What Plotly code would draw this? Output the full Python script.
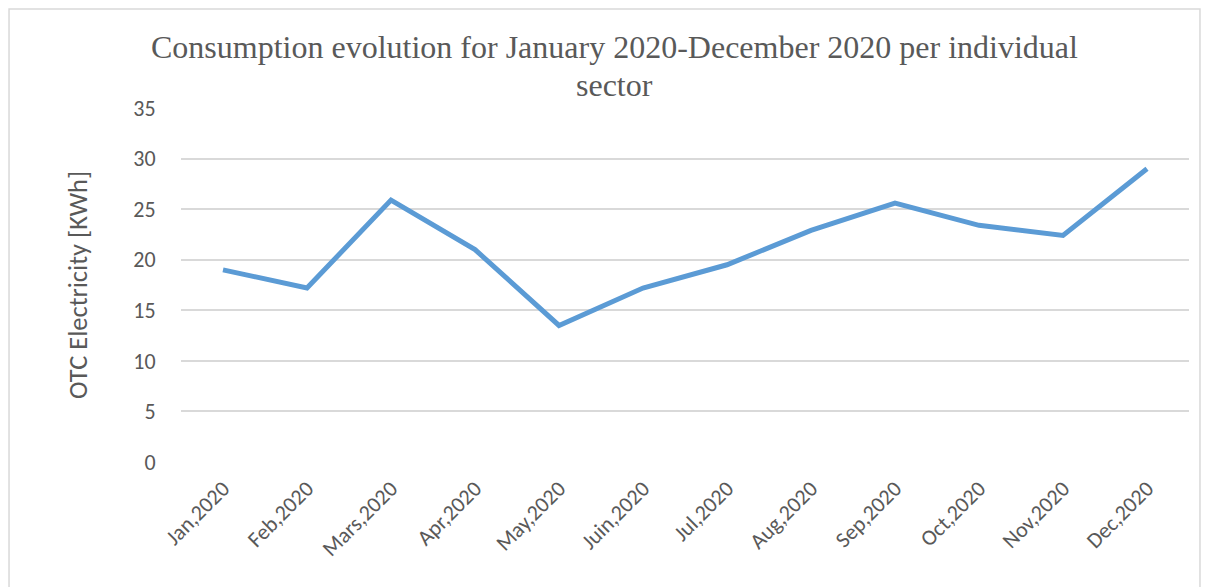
import plotly.graph_objects as go

months = ["Jan,2020", "Feb,2020", "Mars,2020", "Apr,2020", "May,2020", "Juin,2020",
          "Jul,2020", "Aug,2020", "Sep,2020", "Oct,2020", "Nov,2020", "Dec,2020"]
consumption = [19.0, 17.2, 25.9, 21.0, 13.5, 17.2, 19.5, 22.9, 25.6, 23.4, 22.4, 29.0]
y_ticks = [0, 5, 10, 15, 20, 25, 30, 35]
title_lines = ["Consumption evolution for January 2020-December 2020 per individual", "sector"]

SANS = "Carlito, Open Sans, Liberation Sans"
GREY = "#595959"

fig = go.Figure()
fig.add_trace(go.Scatter(
    x=months, y=consumption, mode="lines",
    line=dict(color="#5B9BD5", width=5),
    showlegend=False,
))

fig.update_layout(
    width=1206, height=579,
    margin=dict(l=173, r=25, t=100, b=125),
    paper_bgcolor="white", plot_bgcolor="white",
    xaxis=dict(
        type="category",
        tickangle=-45,
        tickfont=dict(family=SANS, size=22, color=GREY),
        showgrid=False, showline=False, zeroline=False,
        ticks="outside", ticklen=4, tickcolor="rgba(0,0,0,0)",
        range=[-0.5, 11.5],
    ),
    yaxis=dict(
        range=[0, 35], tickvals=y_ticks,
        tickfont=dict(family=SANS, size=22, color=GREY),
        showgrid=True, gridcolor="#D9D9D9", gridwidth=1.6,
        zeroline=False, showline=False,
        ticks="outside", ticklen=20, tickcolor="rgba(0,0,0,0)",
        title=dict(text="OTC Electricity [KWh]",
                   font=dict(family=SANS, size=26.5, color=GREY),
                   standoff=38),
    ),
    annotations=[
        dict(text=title_lines[0], xref="paper", yref="paper", x=0.4296, y=1.172,
             xanchor="center", yanchor="middle", showarrow=False,
             font=dict(family="Liberation Serif", size=32, color=GREY)),
        dict(text=title_lines[1], xref="paper", yref="paper", x=0.4296, y=1.065,
             xanchor="center", yanchor="middle", showarrow=False,
             font=dict(family="Liberation Serif", size=32, color=GREY)),
    ],
    shapes=[dict(type="rect", xref="paper", yref="paper",
                 x0=-0.1706, x1=1.0109, y0=-0.5, y1=1.2797,
                 line=dict(color="#D9D9D9", width=1.5), fillcolor="rgba(0,0,0,0)", layer="below")],
)

fig.write_html("out.html")
